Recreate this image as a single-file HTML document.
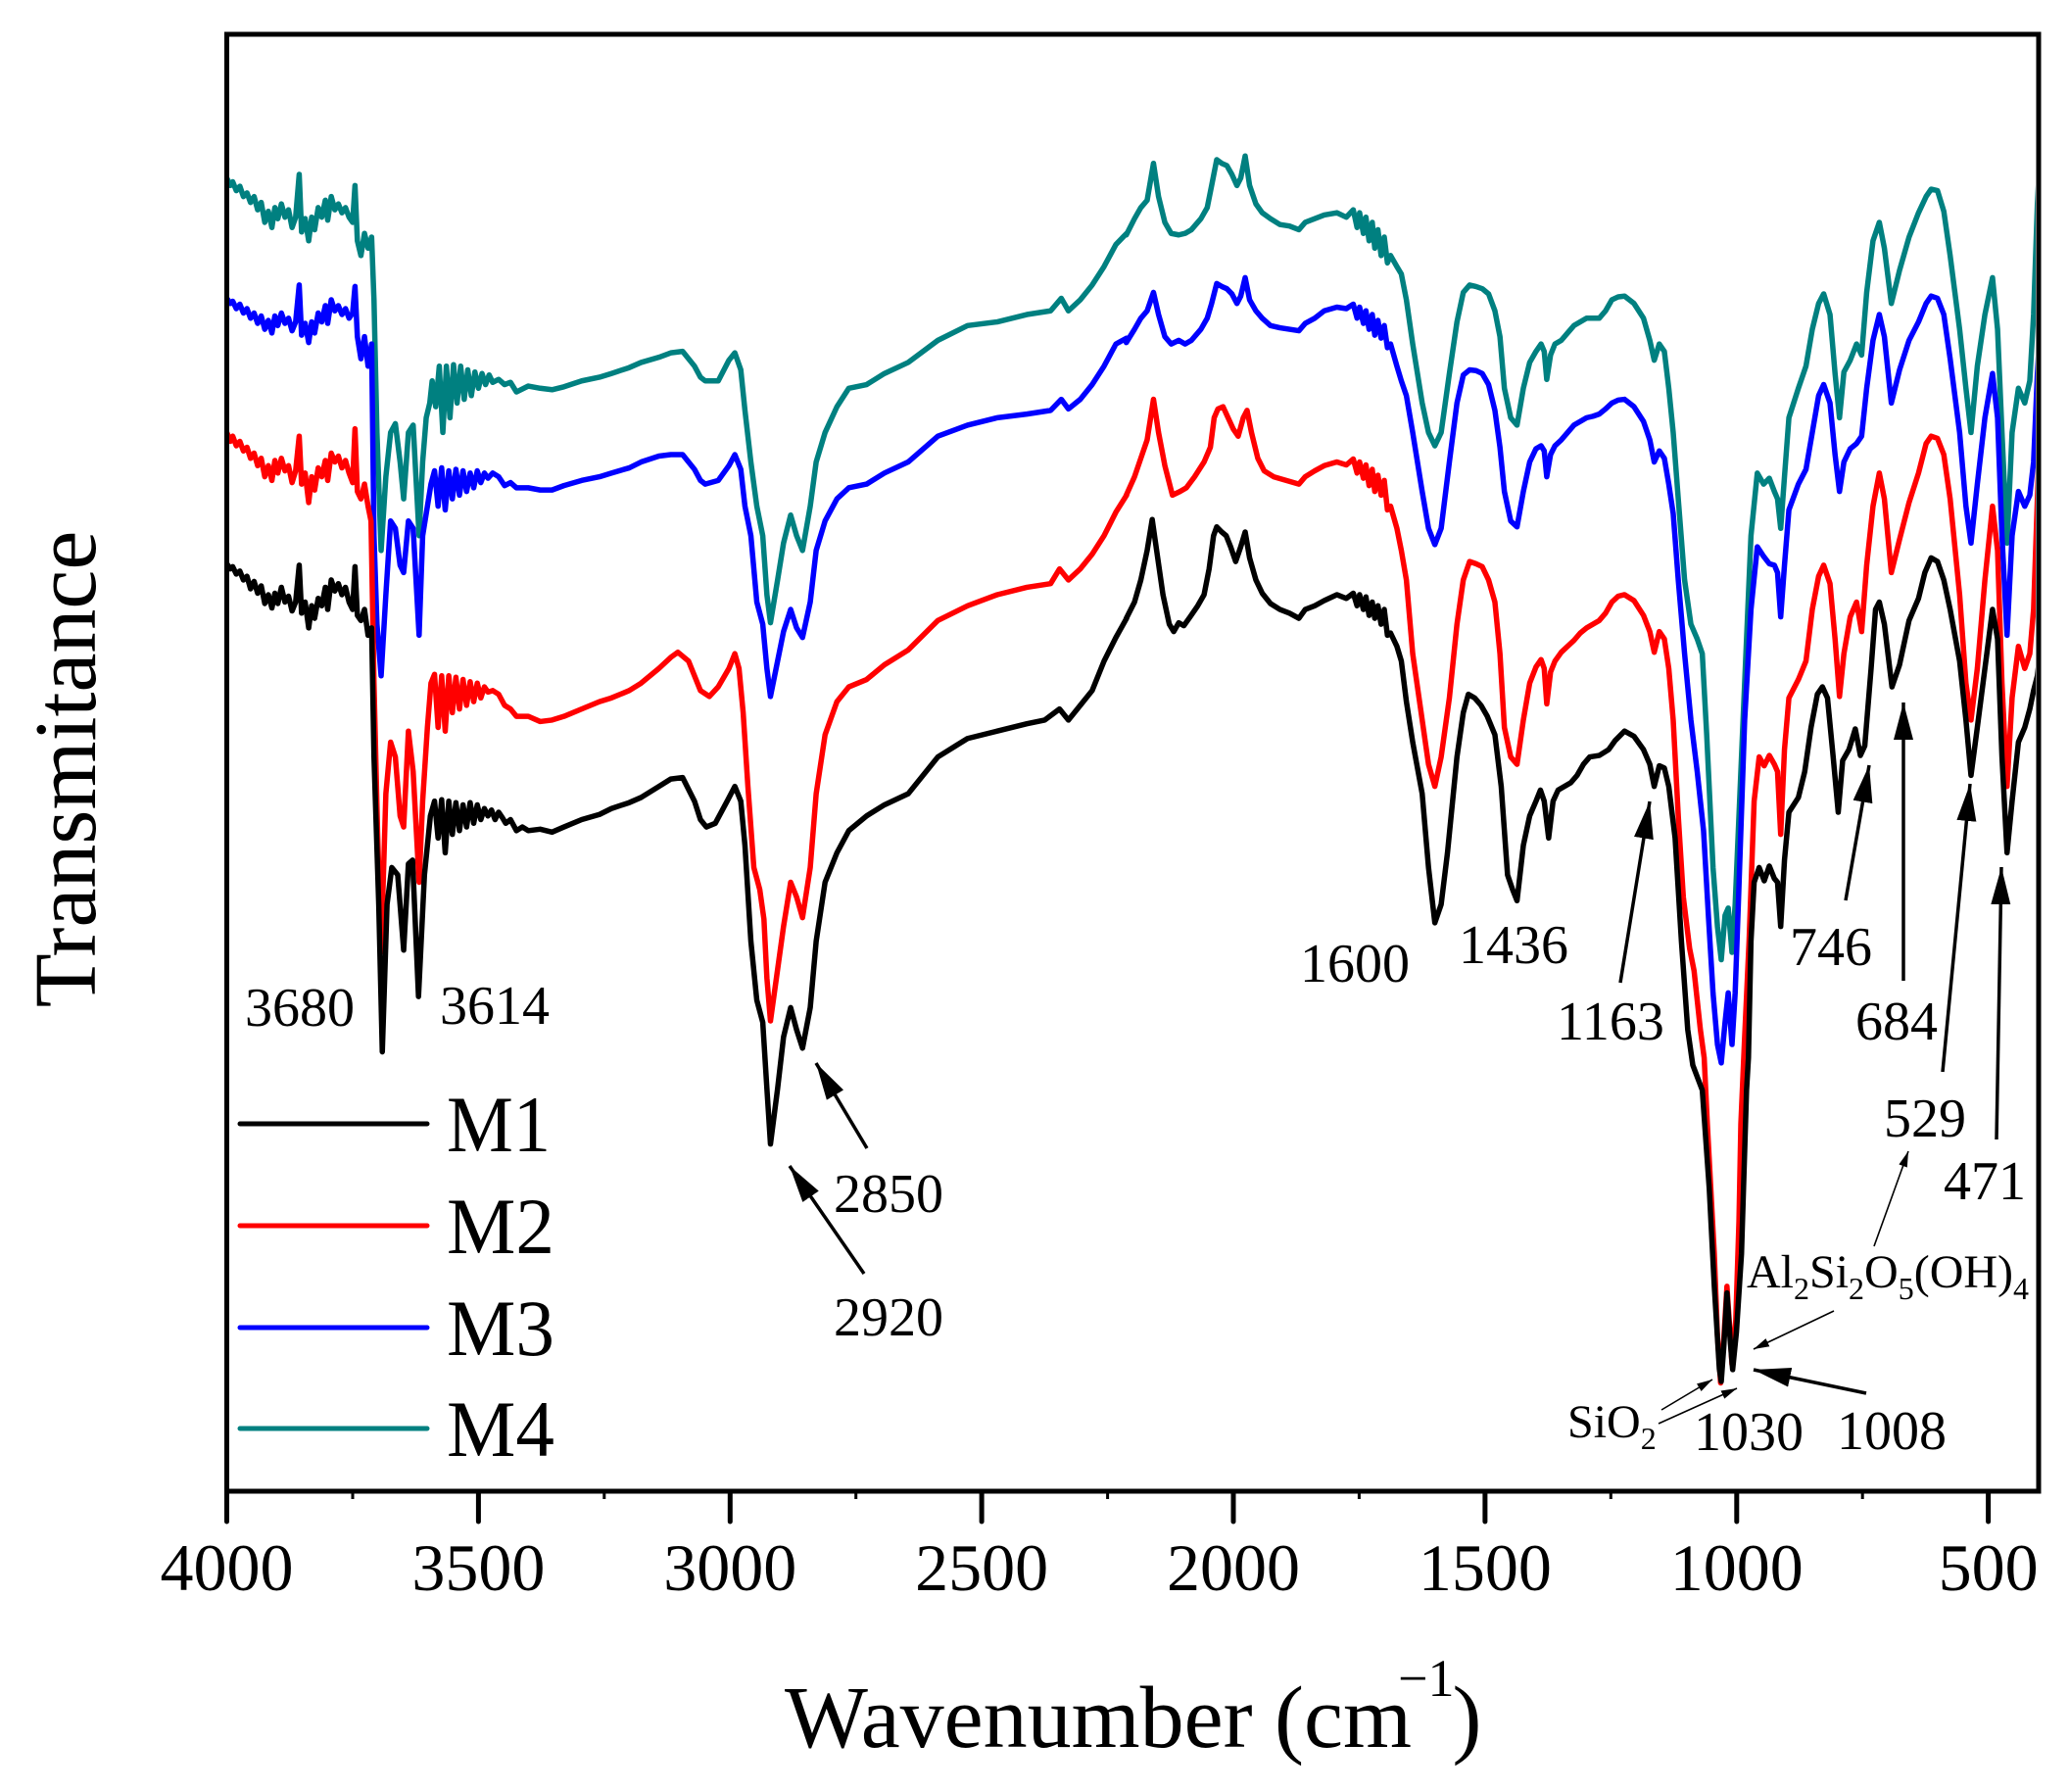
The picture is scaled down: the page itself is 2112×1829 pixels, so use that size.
<!DOCTYPE html>
<html><head><meta charset="utf-8"><style>
html,body{margin:0;padding:0;background:#fff;}
svg{display:block;}
text{font-family:"Liberation Serif","Times New Roman",serif;fill:#000;}
</style></head><body>
<svg width="2112" height="1829" viewBox="0 0 2112 1829" xmlns="http://www.w3.org/2000/svg">
<defs>
<clipPath id="c"><rect x="234" y="38" width="1844" height="1481"/></clipPath>
<marker id="ah" markerUnits="userSpaceOnUse" markerWidth="38" markerHeight="22" refX="38" refY="11" orient="auto" viewBox="0 0 38 22"><path d="M0,1 L38,11 L0,21 Z" fill="#000"/></marker>
<marker id="at" markerUnits="userSpaceOnUse" markerWidth="16" markerHeight="10" refX="16" refY="5" orient="auto" viewBox="0 0 16 10"><path d="M0,0.5 L16,5 L0,9.5 Z" fill="#000"/></marker>
</defs>
<rect width="2112" height="1829" fill="#fff"/>

<g clip-path="url(#c)" fill="none" stroke-width="5.5" stroke-linejoin="round" stroke-linecap="round">
<g transform="translate(200,20) scale(0.60587,0.75255)">
<path vector-effect="non-scaling-stroke" stroke="#008080" d="M52,215 L58,225 62,220 68,232 74,226 80,240 86,235 92,248 98,240 104,258 110,248 116,275 122,260 128,282 133,255 138,270 144,250 150,268 156,258 162,282 168,268 174,210 178,288 184,270 190,300 195,268 200,285 206,255 212,268 218,245 222,272 228,240 234,258 240,250 246,262 252,255 258,268 264,275 268,225 272,300 278,320 284,290 290,310 296,295 300,380 305,560 312,720 320,620 328,560 336,548 344,600 350,650 358,560 366,550 376,700 382,600 388,540 394,520 398,490 404,525 410,470 416,560 422,470 428,540 434,468 440,520 446,470 452,515 458,475 464,510 470,478 476,500 482,480 488,495 494,482 500,492 510,488 520,495 530,492 540,505 560,497 580,500 600,502 620,498 650,490 680,485 700,480 730,472 750,465 780,458 800,452 820,450 840,470 850,485 858,490 880,490 898,462 908,452 918,475 925,530 935,600 945,660 955,700 962,780 968,818 980,760 990,710 1002,672 1012,700 1022,720 1035,660 1045,600 1060,560 1080,525 1100,500 1130,495 1160,480 1200,465 1250,435 1300,415 1350,410 1400,400 1440,395 1458,378 1470,395 1490,380 1510,360 1530,335 1550,305 1568,290"/>
<path vector-effect="non-scaling-stroke" stroke="#0000ff" d="M52,378 L58,385 62,382 68,392 74,386 80,398 86,392 92,405 98,398 104,412 110,402 116,420 122,408 128,425 133,402 138,415 144,398 150,412 156,405 162,422 168,410 174,360 178,428 184,412 190,438 195,410 200,425 206,398 212,410 218,388 222,412 228,380 234,395 240,388 246,400 252,392 258,405 264,398 268,362 272,430 278,460 284,430 290,470 296,440 300,700 305,820 312,890 320,780 328,680 336,690 344,740 350,750 358,680 366,690 376,835 382,700 390,660 396,630 402,612 408,660 414,608 420,665 426,612 432,650 438,610 444,645 450,612 456,640 462,615 468,635 474,612 480,628 486,615 492,622 500,615 510,620 520,632 530,628 540,635 560,635 580,638 600,638 620,632 650,625 680,620 700,615 730,608 750,600 780,592 800,590 820,590 840,610 850,625 858,630 880,625 898,605 908,590 918,610 925,660 935,700 945,790 955,820 962,880 968,918 980,870 990,830 1002,800 1012,825 1022,838 1035,790 1045,720 1060,680 1080,650 1100,635 1130,630 1160,615 1200,600 1250,565 1300,550 1350,540 1400,535 1440,530 1458,515 1470,528 1490,515 1510,495 1530,470 1550,440 1568,432"/>
<path vector-effect="non-scaling-stroke" stroke="#ff0000" d="M52,560 L58,572 62,565 68,578 74,572 80,585 86,580 92,595 98,588 104,605 110,595 116,620 122,605 128,625 133,598 138,615 144,595 150,612 156,605 162,628 168,612 174,565 178,630 184,615 190,655 195,620 200,638 206,608 212,620 218,598 222,625 228,588 234,600 240,592 246,608 252,598 258,615 264,628 268,555 272,640 278,650 284,630 290,660 295,680 300,900 306,1100 312,1265 320,1050 328,980 336,1000 344,1080 350,1095 358,965 366,1020 376,1170 382,1060 390,960 396,900 402,888 408,960 414,890 420,965 426,890 432,940 438,892 444,935 450,895 456,930 462,898 468,925 474,900 480,920 486,905 492,912 500,910 510,915 520,930 530,935 540,945 560,945 580,952 600,950 620,945 650,935 680,925 700,920 730,910 750,900 780,880 800,865 812,858 830,870 850,910 865,918 880,905 898,880 908,860 915,880 922,940 930,1040 940,1150 950,1180 957,1220 962,1300 968,1358 978,1300 990,1230 1002,1170 1012,1190 1022,1218 1035,1150 1045,1050 1060,970 1080,925 1100,905 1130,895 1160,875 1200,855 1250,815 1300,795 1350,780 1400,770 1440,765 1455,745 1470,760 1490,745 1510,725 1530,700 1550,668 1568,645"/>
<path vector-effect="non-scaling-stroke" stroke="#000000" d="M52,738 L58,745 62,742 68,752 74,748 80,760 86,755 92,772 98,762 104,778 110,768 116,792 122,780 128,798 133,778 138,792 144,770 150,790 156,782 162,802 168,790 174,740 178,805 184,790 190,825 195,795 200,812 206,785 212,795 218,770 222,800 228,760 234,775 240,765 246,780 252,770 258,790 264,800 268,742 272,808 278,815 284,800 290,835 296,825 300,1000 308,1200 314,1400 322,1200 330,1150 340,1160 350,1262 358,1145 365,1140 375,1325 385,1160 395,1080 402,1060 408,1110 414,1058 420,1130 426,1060 432,1105 438,1062 444,1100 450,1065 456,1095 462,1062 468,1090 474,1065 480,1085 486,1070 492,1080 498,1072 504,1085 510,1075 516,1082 522,1090 530,1085 540,1100 550,1095 560,1100 580,1098 600,1102 620,1095 650,1085 680,1078 700,1070 730,1062 750,1055 780,1040 800,1030 820,1028 840,1060 850,1085 860,1095 875,1090 895,1060 908,1040 918,1060 925,1120 935,1250 945,1330 955,1360 962,1450 968,1525 980,1450 990,1380 1002,1340 1012,1370 1022,1395 1035,1340 1045,1250 1060,1170 1080,1130 1100,1100 1130,1080 1160,1065 1200,1050 1250,1000 1280,985 1300,975 1350,965 1400,955 1430,950 1455,935 1470,950 1490,930 1510,910 1530,870 1550,838 1568,812"/>
</g>
<g transform="translate(1100,20) scale(0.64541,0.75255)">
<path vector-effect="non-scaling-stroke" stroke="#008080" d="M77,292 L90,270 100,255 110,245 120,195 128,240 138,275 148,290 160,292 170,290 180,285 195,270 205,255 212,225 220,190 228,195 236,198 244,210 252,225 258,215 265,185 272,225 282,250 292,262 305,270 320,278 335,280 350,285 360,275 375,270 390,265 410,262 425,268 436,258 442,282 446,262 452,290 456,268 461,300 466,275 470,310 475,285 480,320 485,295 490,330 495,320 505,335 512,345 520,380 530,440 545,520 555,560 565,578 575,560 588,480 600,410 610,370 620,360 630,362 640,365 650,372 660,395 668,430 675,500 685,540 695,550 705,500 715,465 725,450 733,440 738,450 742,488 748,455 755,440 765,435 775,425 785,415 795,410 805,405 815,405 825,405 835,395 845,380 855,376 865,375 880,385 895,405 905,435 912,462 920,440 928,450 935,500 942,560 950,650 960,760 970,820 980,840 988,860 995,970 1005,1150 1012,1230 1018,1275 1024,1215 1029,1205 1035,1265 1040,1200 1045,1100 1055,900 1065,700 1075,615 1085,630 1094,622 1102,640 1107,650 1112,690 1118,620 1125,540 1140,500 1152,470 1162,420 1172,385 1180,372 1190,400 1198,480 1205,540 1212,478 1222,462 1232,440 1240,455 1248,370 1258,300 1268,275 1276,310 1287,385 1300,340 1315,295 1330,262 1342,240 1350,230 1360,232 1370,260 1380,320 1395,420 1405,500 1413,560 1423,470 1435,400 1447,350 1455,420 1462,560 1470,710 1478,560 1488,500 1498,520 1506,490 1512,400 1518,250 1522,185"/>
<path vector-effect="non-scaling-stroke" stroke="#0000ff" d="M77,438 L90,420 100,405 110,395 120,370 128,400 138,430 148,440 160,435 170,440 180,435 195,420 205,405 212,385 220,358 228,362 236,365 244,372 252,385 258,375 265,350 272,380 282,395 292,405 305,415 320,418 335,420 350,422 360,412 375,405 390,395 410,390 425,392 436,386 442,405 446,390 452,412 456,395 461,420 466,400 470,428 475,408 480,432 485,415 490,445 495,440 505,470 512,490 520,510 530,560 545,640 555,690 565,712 575,690 588,600 600,520 610,482 620,475 630,476 640,480 650,495 660,530 668,580 675,640 685,680 695,688 705,640 715,600 725,582 733,578 738,585 742,620 748,590 755,578 765,570 775,560 785,550 795,545 805,540 815,538 825,535 835,528 845,520 855,516 865,515 880,525 895,545 905,570 912,600 920,585 928,595 935,630 942,670 950,760 960,860 970,950 980,1020 990,1100 998,1220 1005,1320 1012,1390 1018,1415 1024,1360 1029,1320 1035,1390 1040,1320 1045,1200 1055,950 1065,800 1075,715 1085,728 1094,738 1102,740 1107,750 1112,810 1118,740 1125,665 1140,630 1152,610 1162,560 1172,510 1180,495 1190,520 1198,590 1205,640 1212,600 1222,582 1232,575 1240,565 1248,500 1258,435 1268,400 1276,430 1287,520 1300,475 1315,435 1330,410 1342,385 1350,375 1360,378 1370,400 1380,460 1395,560 1405,660 1413,710 1423,630 1435,540 1447,480 1455,540 1462,700 1470,835 1478,700 1488,640 1498,660 1506,645 1512,600 1518,480 1522,420"/>
<path vector-effect="non-scaling-stroke" stroke="#ff0000" d="M77,645 L90,620 100,595 110,570 120,515 128,560 138,605 150,645 162,640 172,635 185,620 200,600 210,580 216,540 222,528 230,525 238,540 246,555 254,565 262,540 268,530 275,560 285,595 295,612 310,620 330,625 350,630 360,620 375,612 390,605 410,600 425,604 436,596 442,615 446,600 452,622 456,604 461,632 466,610 470,640 475,618 480,645 485,625 490,665 495,660 505,690 512,720 520,760 530,860 545,950 555,1010 565,1040 575,1000 588,920 600,820 610,760 620,735 630,738 640,742 650,760 660,790 668,860 675,960 685,1000 695,1010 705,950 715,900 725,878 733,868 738,880 742,928 748,885 755,870 765,858 775,850 785,842 795,832 805,825 815,820 825,815 835,805 845,790 855,782 865,780 880,788 895,808 905,830 912,858 920,830 928,840 935,880 942,950 950,1080 958,1190 968,1260 975,1290 985,1370 991,1408 996,1498 1007,1674 1012,1785 1017,1849 1022,1790 1027,1718 1031,1770 1035,1824 1041,1763 1046,1630 1049,1498 1055,1380 1062,1250 1070,1060 1078,1000 1086,1012 1094,998 1102,1010 1107,1020 1112,1105 1118,990 1125,920 1140,895 1152,870 1162,800 1172,755 1180,740 1190,765 1198,840 1205,918 1212,860 1222,810 1232,790 1240,830 1248,740 1258,660 1268,615 1276,650 1287,750 1300,705 1315,655 1330,615 1342,575 1350,565 1360,568 1370,590 1380,650 1395,780 1405,900 1413,950 1423,880 1435,760 1447,660 1455,720 1462,900 1470,1040 1478,920 1488,850 1498,880 1506,860 1512,800 1518,650 1522,540"/>
<path vector-effect="non-scaling-stroke" stroke="#000000" d="M77,812 L90,790 100,760 110,720 118,678 125,720 135,780 145,820 152,830 160,818 168,822 178,810 190,795 200,780 208,745 215,700 220,688 228,695 235,700 242,715 250,735 258,715 265,695 272,730 282,760 292,778 305,792 320,800 335,805 350,812 360,800 375,795 390,788 410,780 425,785 436,778 442,795 446,780 452,800 456,783 461,808 466,790 470,812 475,795 480,820 485,800 490,835 495,832 505,850 512,870 520,925 530,980 545,1050 555,1150 565,1225 575,1200 585,1130 600,1000 610,940 618,915 628,920 638,930 648,945 660,970 670,1040 680,1160 688,1180 695,1195 705,1120 715,1080 725,1060 732,1045 738,1060 745,1110 752,1060 760,1045 770,1040 780,1035 790,1025 800,1010 810,1000 825,998 840,990 850,978 865,965 880,972 895,990 905,1010 912,1040 920,1012 928,1015 935,1040 945,1110 955,1250 965,1370 973,1418 988,1452 999,1585 1007,1718 1015,1830 1018,1847 1022,1800 1027,1727 1032,1790 1036,1831 1042,1780 1050,1674 1058,1452 1061,1408 1065,1250 1070,1170 1078,1150 1086,1168 1094,1148 1102,1165 1107,1170 1112,1230 1118,1140 1125,1075 1140,1055 1150,1020 1160,960 1170,915 1178,905 1186,920 1195,1000 1203,1075 1210,1005 1220,990 1230,962 1238,998 1245,985 1255,880 1262,800 1268,790 1276,820 1288,905 1300,875 1315,815 1330,785 1340,750 1350,730 1360,735 1370,760 1380,800 1395,870 1405,950 1413,1025 1423,960 1435,880 1447,800 1455,840 1462,1000 1470,1130 1478,1060 1488,980 1498,960 1506,935 1512,910 1518,890 1522,860"/>
</g>
</g>

<!-- frame -->
<rect x="231.5" y="35" width="1849.5" height="1487" fill="none" stroke="#000" stroke-width="5"/>
<!-- ticks -->
<g stroke="#000" stroke-width="5" stroke-linecap="round">
<line x1="231.5" y1="1522" x2="231.5" y2="1553"/>
<line x1="488.4" y1="1522" x2="488.4" y2="1553"/>
<line x1="745.3" y1="1522" x2="745.3" y2="1553"/>
<line x1="1002.1" y1="1522" x2="1002.1" y2="1553"/>
<line x1="1259" y1="1522" x2="1259" y2="1553"/>
<line x1="1515.9" y1="1522" x2="1515.9" y2="1553"/>
<line x1="1772.8" y1="1522" x2="1772.8" y2="1553"/>
<line x1="2029.6" y1="1522" x2="2029.6" y2="1553"/>
</g>
<g stroke="#000" stroke-width="3">
<line x1="360" y1="1522" x2="360" y2="1530"/>
<line x1="616.8" y1="1522" x2="616.8" y2="1530"/>
<line x1="873.7" y1="1522" x2="873.7" y2="1530"/>
<line x1="1130.6" y1="1522" x2="1130.6" y2="1530"/>
<line x1="1387.4" y1="1522" x2="1387.4" y2="1530"/>
<line x1="1644.3" y1="1522" x2="1644.3" y2="1530"/>
<line x1="1901.2" y1="1522" x2="1901.2" y2="1530"/>
</g>
<g font-size="68" text-anchor="middle">
<text x="231.5" y="1623">4000</text>
<text x="488.4" y="1623">3500</text>
<text x="745.3" y="1623">3000</text>
<text x="1002.1" y="1623">2500</text>
<text x="1259" y="1623">2000</text>
<text x="1515.9" y="1623">1500</text>
<text x="1772.8" y="1623">1000</text>
<text x="2029.6" y="1623">500</text>
</g>

<!-- axis titles -->
<text x="801" y="1783" font-size="90">Wavenumber (cm<tspan font-size="54" dx="-14" dy="-52">−1</tspan><tspan font-size="90" dy="52" dx="-2">)</tspan></text>
<text transform="translate(97,785) rotate(-90)" font-size="90" text-anchor="middle">Transmitance</text>

<!-- legend -->
<g stroke-width="5" stroke-linecap="round">
<line x1="245" y1="1147" x2="436" y2="1147" stroke="#000"/>
<line x1="245" y1="1251" x2="436" y2="1251" stroke="#ff0000"/>
<line x1="245" y1="1355" x2="436" y2="1355" stroke="#0000ff"/>
<line x1="245" y1="1458" x2="436" y2="1458" stroke="#008080"/>
</g>
<g font-size="82">
<text x="456" y="1175" textLength="106" lengthAdjust="spacingAndGlyphs">M1</text>
<text x="456" y="1279" textLength="110" lengthAdjust="spacingAndGlyphs">M2</text>
<text x="456" y="1383" textLength="110" lengthAdjust="spacingAndGlyphs">M3</text>
<text x="456" y="1486" textLength="110" lengthAdjust="spacingAndGlyphs">M4</text>
</g>

<!-- annotations -->
<g font-size="56">
<text x="250" y="1047">3680</text>
<text x="449" y="1045">3614</text>
<text x="851" y="1237">2850</text>
<text x="851" y="1363">2920</text>
<text x="1327" y="1002">1600</text>
<text x="1489" y="983">1436</text>
<text x="1589" y="1061">1163</text>
<text x="1827" y="985">746</text>
<text x="1894" y="1061">684</text>
<text x="1923" y="1160">529</text>
<text x="1984" y="1224">471</text>
<text x="1729" y="1480">1030</text>
<text x="1875" y="1479">1008</text>
</g>
<g font-size="48">
<text x="1783" y="1314">Al<tspan font-size="32" dy="12">2</tspan><tspan dy="-12">Si</tspan><tspan font-size="32" dy="12">2</tspan><tspan dy="-12">O</tspan><tspan font-size="32" dy="12">5</tspan><tspan dy="-12">(OH)</tspan><tspan font-size="32" dy="12">4</tspan></text>
<text x="1600" y="1467">SiO<tspan font-size="32" dy="12">2</tspan></text>
</g>

<!-- arrows -->
<g stroke="#000" stroke-width="3.5" fill="none">
<path d="M885,1172 L833,1085" marker-end="url(#ah)"/>
<path d="M882,1300 L806,1190" marker-end="url(#ah)"/>
<path d="M1654,1003 L1684,818" marker-end="url(#ah)"/>
<path d="M1884,919 L1908,781" marker-end="url(#ah)"/>
<path d="M1943,1001 L1943,717" marker-end="url(#ah)"/>
<path d="M1983,1094 L2011,800" marker-end="url(#ah)"/>
<path d="M2038,1163 L2043,885" marker-end="url(#ah)"/>
<path d="M1905,1422 L1790,1398" marker-end="url(#ah)"/>
</g>
<g stroke="#000" stroke-width="1.6" fill="none">
<path d="M1913,1272 L1948,1175" marker-end="url(#at)"/>
<path d="M1872,1338 L1790,1377" marker-end="url(#at)"/>
<path d="M1696,1439 L1748,1408" marker-end="url(#at)"/>
<path d="M1693,1453 L1773,1417" marker-end="url(#at)"/>
</g>
</svg>
</body></html>
